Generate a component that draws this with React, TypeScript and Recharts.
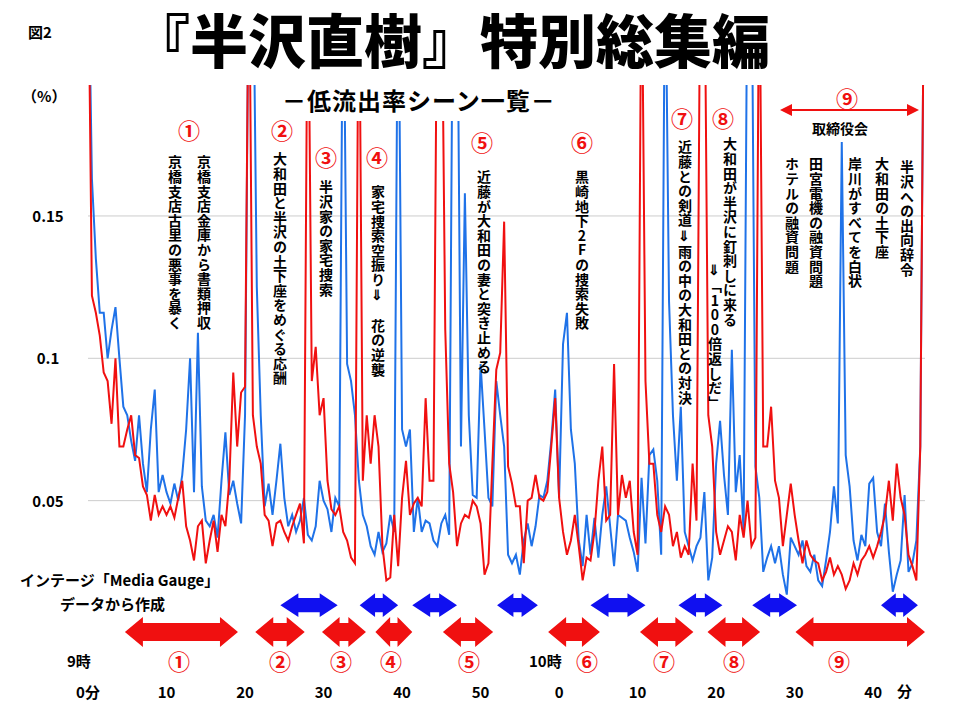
import React from 'react';
import { LineChart, Line, XAxis, YAxis, ReferenceLine, ReferenceArea } from 'recharts';

// 視聴データ（30秒刻み, 9時0分〜10時46分30秒）
const blueValues = [
  0.25, 0.163, 0.135, 0.116, 0.116, 0.1, 0.11, 0.118, 0.1, 0.083, 0.08, 0.071, 0.064, 0.08, 0.063, 0.053, 0.075, 0.089, 0.053, 0.059,
  0.053, 0.049, 0.056, 0.05, 0.059, 0.075, 0.1, 0.053, 0.109, 0.055, 0.043, 0.041, 0.045, 0.037, 0.057, 0.074, 0.052, 0.057, 0.049, 0.042,
  0.08, 0.25, 0.25, 0.125, 0.08, 0.048, 0.056, 0.045, 0.057, 0.07, 0.051, 0.041, 0.045, 0.039, 0.043, 0.051, 0.038, 0.036, 0.041, 0.057,
  0.05, 0.047, 0.039, 0.051, 0.048, 0.25, 0.098, 0.092, 0.08, 0.057, 0.045, 0.041, 0.034, 0.031, 0.039, 0.032, 0.035, 0.045, 0.039, 0.25,
  0.075, 0.069, 0.075, 0.039, 0.051, 0.039, 0.043, 0.042, 0.036, 0.034, 0.042, 0.045, 0.038, 0.25, 0.25, 0.069, 0.158, 0.08, 0.052, 0.051,
  0.098, 0.075, 0.051, 0.048, 0.092, 0.08, 0.069, 0.031, 0.028, 0.031, 0.024, 0.036, 0.042, 0.034, 0.041, 0.052, 0.051, 0.057, 0.071, 0.089,
  0.051, 0.105, 0.116, 0.075, 0.063, 0.036, 0.027, 0.045, 0.031, 0.044, 0.03, 0.045, 0.055, 0.041, 0.027, 0.045, 0.044, 0.043, 0.037, 0.032,
  0.025, 0.058, 0.035, 0.066, 0.068, 0.057, 0.031, 0.25, 0.12, 0.08, 0.057, 0.083, 0.039, 0.034, 0.029, 0.034, 0.037, 0.053, 0.022, 0.03,
  0.063, 0.078, 0.059, 0.045, 0.103, 0.053, 0.066, 0.039, 0.25, 0.25, 0.062, 0.051, 0.025, 0.03, 0.034, 0.028, 0.034, 0.024, 0.017, 0.037,
  0.034, 0.031, 0.036, 0.027, 0.025, 0.031, 0.022, 0.02, 0.029, 0.039, 0.055, 0.042, 0.176, 0.066, 0.055, 0.036, 0.029, 0.038, 0.034, 0.056,
  0.058, 0.039, 0.034, 0.049, 0.032, 0.018, 0.024, 0.029, 0.052, 0.025, 0.028, 0.036, 0.069, 0.25,
];

const redValues = [
  0.25, 0.122, 0.116, 0.108, 0.095, 0.092, 0.077, 0.1, 0.069, 0.069, 0.075, 0.08, 0.066, 0.065, 0.055, 0.052, 0.043, 0.052, 0.045, 0.048,
  0.045, 0.048, 0.044, 0.051, 0.057, 0.041, 0.036, 0.029, 0.041, 0.043, 0.028, 0.036, 0.043, 0.032, 0.045, 0.041, 0.057, 0.095, 0.069, 0.088,
  0.09, 0.25, 0.08, 0.069, 0.063, 0.045, 0.043, 0.034, 0.042, 0.043, 0.039, 0.036, 0.041, 0.045, 0.049, 0.035, 0.25, 0.092, 0.104, 0.08,
  0.086, 0.057, 0.047, 0.045, 0.048, 0.039, 0.036, 0.03, 0.028, 0.25, 0.057, 0.08, 0.063, 0.08, 0.069, 0.034, 0.022, 0.023, 0.045, 0.027,
  0.051, 0.064, 0.045, 0.049, 0.051, 0.048, 0.086, 0.057, 0.057, 0.25, 0.25, 0.11, 0.063, 0.053, 0.034, 0.042, 0.045, 0.044, 0.05, 0.048,
  0.042, 0.024, 0.028, 0.063, 0.096, 0.102, 0.148, 0.062, 0.056, 0.048, 0.048, 0.028, 0.05, 0.051, 0.059, 0.051, 0.05, 0.053, 0.069, 0.086,
  0.051, 0.039, 0.031, 0.036, 0.045, 0.034, 0.022, 0.03, 0.029, 0.039, 0.057, 0.069, 0.043, 0.045, 0.098, 0.045, 0.059, 0.051, 0.057, 0.039,
  0.031, 0.25, 0.092, 0.063, 0.063, 0.045, 0.039, 0.048, 0.045, 0.034, 0.039, 0.03, 0.034, 0.031, 0.063, 0.043, 0.25, 0.25, 0.08, 0.069,
  0.039, 0.031, 0.036, 0.041, 0.039, 0.029, 0.045, 0.037, 0.05, 0.034, 0.037, 0.25, 0.069, 0.069, 0.083, 0.057, 0.051, 0.034, 0.045, 0.056,
  0.045, 0.036, 0.028, 0.036, 0.031, 0.029, 0.028, 0.022, 0.025, 0.03, 0.024, 0.027, 0.024, 0.019, 0.022, 0.028, 0.024, 0.029, 0.031, 0.034,
  0.03, 0.034, 0.039, 0.045, 0.057, 0.043, 0.063, 0.051, 0.045, 0.031, 0.027, 0.022, 0.069, 0.25,
];

const xTicks = [0, 10, 20, 30, 40, 50, 60, 70, 80, 90, 100];
const xTickLabels = ['0分', '10', '20', '30', '40', '50', '0', '10', '20', '30', '40'];
const yTicks = [0.05, 0.1, 0.15];
const yTickLabels = ['0.05', '0.1', '0.15'];

// シーン区間（分）
const redRanges = [[4.7, 19.1], [21.3, 27.6], [29.8, 35.4], [36.6, 41.3], [45.2, 51.6], [58.6, 65.2], [70.3, 77.1], [78.9, 85.6], [90.1, 106.6]];
const blueRanges = [[24.5, 31.8], [34.6, 39.5], [41.3, 47], [52.1, 57.3], [64, 71], [75.2, 80.8], [84.6, 90.3], [101, 105.7]];

const data = blueValues.map((b, i) => ({ min: i * 0.5, blue: b, red: redValues[i] }));

const FONT = '"Noto Sans CJK JP", "Noto Sans", sans-serif';

const DoubleArrow = (color: string) => (props: any) => {
  const { x, y, width, height } = props;
  const head = Math.min(18, width / 2.5);
  const bh = height * 0.3;
  const cy = y + height / 2;
  const pts = [
    [x, cy], [x + head, y], [x + head, cy - bh], [x + width - head, cy - bh], [x + width - head, y],
    [x + width, cy], [x + width - head, y + height], [x + width - head, cy + bh], [x + head, cy + bh], [x + head, y + height],
  ].map((p) => p.join(',')).join(' ');
  return <polygon points={pts} fill={color} />;
};

const verticalNotes = [
  { t: '京橋支店金庫から書類押収', x: 205, y: 155 },
  { t: '京橋支店古里の悪事を暴く', x: 176, y: 155 },
  { t: '大和田と半沢の土下座をめぐる応酬', x: 281, y: 152 },
  { t: '半沢家の家宅捜索', x: 327, y: 180 },
  { t: '家宅捜索空振り⇓　花の逆襲', x: 379, y: 185 },
  { t: '近藤が大和田の妻と突き止める', x: 485, y: 170 },
  { t: '黒崎地下2Fの捜索失敗', x: 583, y: 170 },
  { t: '近藤との剣道⇓雨の中の大和田との対決', x: 686, y: 140 },
  { t: '大和田が半沢に釘刺しに来る', x: 731, y: 137 },
  { t: '⇓「100倍返しだ」', x: 716, y: 262 },
  { t: 'ホテルの融資問題', x: 793, y: 157 },
  { t: '田宮電機の融資問題', x: 817, y: 157 },
  { t: '岸川がすべてを白状', x: 856, y: 157 },
  { t: '大和田の土下座', x: 883, y: 157 },
  { t: '半沢への出向辞令', x: 908, y: 160 },
];

const topNums = [
  { t: '①', x: 190, y: 130 }, { t: '②', x: 283, y: 130 }, { t: '③', x: 327, y: 157 },
  { t: '④', x: 378, y: 157 }, { t: '⑤', x: 483, y: 142 }, { t: '⑥', x: 583, y: 142 },
  { t: '⑦', x: 683, y: 118 }, { t: '⑧', x: 724, y: 118 }, { t: '⑨', x: 848, y: 98 },
];
const bottomNums = [
  { t: '①', x: 180 }, { t: '②', x: 281 }, { t: '③', x: 342 }, { t: '④', x: 392 }, { t: '⑤', x: 470 },
  { t: '⑥', x: 588 }, { t: '⑦', x: 665 }, { t: '⑧', x: 735 }, { t: '⑨', x: 840 },
];

const abs = (x: number, y: number, extra: React.CSSProperties = {}): React.CSSProperties => ({
  position: 'absolute', left: x, top: y, fontFamily: FONT, fontWeight: 700, whiteSpace: 'nowrap', lineHeight: 1, ...extra,
});

const XTick = (props: any) => {
  const { x, payload, index } = props;
  return (
    <text x={x} y={698} textAnchor='middle' fontSize={15} fontWeight={700} fontFamily={FONT} fill='#000'>
      {xTickLabels[index] ?? payload.value}
    </text>
  );
};

const YTick = (props: any) => {
  const { y, index } = props;
  return (
    <text x={48} y={y + 6} textAnchor='middle' fontSize={15} fontWeight={700} fontFamily={FONT} fill='#000'>
      {yTickLabels[index]}
    </text>
  );
};

export default function App() {
  return (
    <div style={{ position: 'absolute', left: 0, top: 0, width: 960, height: 720, background: '#fff', overflow: 'hidden' }}>
      <LineChart width={960} height={720} data={data} margin={{ top: 85, right: 35, left: 28, bottom: 0 }}>
        <XAxis dataKey='min' type='number' domain={[0, 106.6]} ticks={xTicks} tick={<XTick />} axisLine={false} tickLine={false} height={77} />
        <YAxis domain={[0, 0.196]} allowDataOverflow ticks={yTicks} tick={<YTick />} axisLine={false} tickLine={false} width={60} />
        {yTicks.map((v) => (
          <ReferenceLine key={v} y={v} stroke='#cccccc' strokeWidth={1} />
        ))}
        <Line type='linear' dataKey='blue' stroke='#1f72e8' strokeWidth={2} dot={false} isAnimationActive={false} />
        <Line type='linear' dataKey='red' stroke='#f01010' strokeWidth={2} dot={false} isAnimationActive={false} />
        {blueRanges.map(([a, b], i) => (
          <ReferenceArea key={'b' + i} x1={a} x2={b} y1={0.0091} y2={0.0175} ifOverflow='visible' shape={DoubleArrow('#1010f0')} />
        ))}
        {redRanges.map(([a, b], i) => (
          <ReferenceArea key={'r' + i} x1={a} x2={b} y1={-0.0014} y2={0.0091} ifOverflow='visible' shape={DoubleArrow('#f01010')} />
        ))}
      </LineChart>

      <svg style={{ position: 'absolute', left: 0, top: 0 }} width={960} height={720}>
        <line x1={790} y1={110} x2={910} y2={110} stroke='#f01010' strokeWidth={2} />
        <polygon points='780,110 792,104 792,116' fill='#f01010' />
        <polygon points='919,110 907,104 907,116' fill='#f01010' />
      </svg>

      <div style={abs(28, 24, { fontSize: 15 })}>図2</div>
      <div style={abs(132, 4, { fontSize: 58, fontWeight: 900, lineHeight: 1.2 })}>『半沢直樹』特別総集編</div>
      <div style={abs(278, 84, { fontSize: 24, background: '#fff', padding: '4px 4px 9px', letterSpacing: 1 })}>－低流出率シーン一覧－</div>
      <div style={abs(22, 88, { fontSize: 15 })}>（%）</div>
      <div style={abs(812, 121, { fontSize: 14 })}>取締役会</div>

      {topNums.map((n, i) => (
        <div key={i} style={abs(n.x - 12, n.y - 12, { fontSize: 22, color: '#f01010' })}>{n.t}</div>
      ))}
      {verticalNotes.map((n, i) => (
        <div key={i} style={abs(n.x - 8, n.y, { fontSize: 14, writingMode: 'vertical-rl', textOrientation: 'upright', letterSpacing: 0.6 })}>{n.t}</div>
      ))}

      <div style={abs(20, 572, { fontSize: 15 })}>インテージ「Media Gauge」</div>
      <div style={abs(60, 596, { fontSize: 15 })}>データから作成</div>
      <div style={abs(67, 653, { fontSize: 15 })}>9時</div>
      <div style={abs(529, 653, { fontSize: 15 })}>10時</div>
      {bottomNums.map((n, i) => (
        <div key={i} style={abs(n.x - 12, 649, { fontSize: 22, color: '#f01010' })}>{n.t}</div>
      ))}
      <div style={abs(897, 683, { fontSize: 15 })}>分</div>
    </div>
  );
}
